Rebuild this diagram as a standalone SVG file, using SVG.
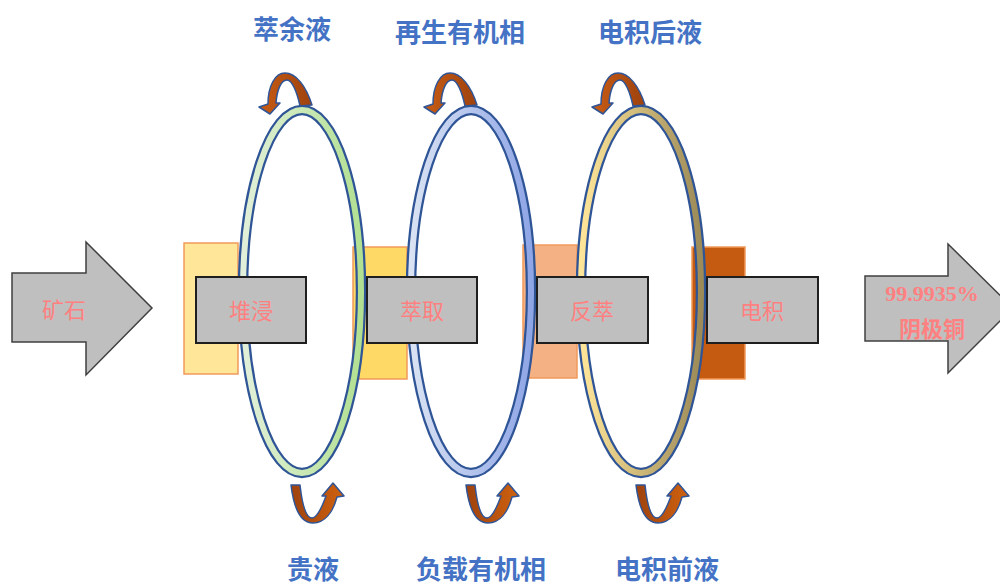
<svg xmlns="http://www.w3.org/2000/svg" width="1000" height="585" viewBox="0 0 1000 585">
<style>
.lbl{font-family:"Noto Sans CJK SC","Noto Sans",sans-serif;font-weight:bold;font-size:26px;fill:#4472c4;text-anchor:middle;dominant-baseline:central}
.box{fill:#bfbfbf;stroke:#1f1f1f;stroke-width:2}
.bt{font-family:"Noto Sans CJK SC","Noto Sans",sans-serif;font-size:22px;fill:#ff8080;text-anchor:middle;dominant-baseline:central}
.big{fill:#bfbfbf;stroke:#404040;stroke-width:1.5}
.band{stroke:#f19a5a;stroke-width:1.5}
.ringo{fill:none;stroke:#2f5597;stroke-width:10.5}
.arr{stroke:#2f5597;stroke-width:1.5;stroke-linejoin:round}
</style>
<defs>
<linearGradient id="g1" x1="0" y1="0" x2="1" y2="0"><stop offset="0" stop-color="#e2f0d9"/><stop offset="1" stop-color="#b2e092"/></linearGradient>
<linearGradient id="g2" x1="0" y1="0" x2="1" y2="0"><stop offset="0" stop-color="#dae3f3"/><stop offset="1" stop-color="#8fa6e6"/></linearGradient>
<linearGradient id="g3" x1="0" y1="0" x2="1" y2="0"><stop offset="0" stop-color="#ffe699"/><stop offset="1" stop-color="#9c8a58"/></linearGradient>
<linearGradient id="at" x1="0" y1="0" x2="1" y2="0"><stop offset="0" stop-color="#c85c14"/><stop offset="1" stop-color="#9e420e"/></linearGradient>
<linearGradient id="ab" x1="0" y1="0" x2="1" y2="0"><stop offset="0" stop-color="#9e420e"/><stop offset="1" stop-color="#d0620f"/></linearGradient>
<path id="topArrow" d="M300,106 C297,92 292,80 287,80 C281,80 277,90 276,103 L280,103 L270,114 L259,107 L268,104 C268,86 275,73 285,73 C296,73 306,86 312,105 Z"/>
<path id="botArrow" d="M291,485 L300,485 C302,503 306,518 312,518 C317,518 322,507 326,496 L322,496 L333,483 L344,496 L337,497 C333,512 325,523 313,523 C301,523 294,510 291,485 Z"/>
</defs>
<rect width="1000" height="585" fill="#ffffff"/>

<g id="ore">
<path class="big" d="M12,273 L86,273 L86,242 L152,308 L86,375 L86,342 L12,342 Z"/>
<text class="bt" x="64" y="308">矿石</text>
</g>

<g id="bands">
<rect class="band" x="184" y="243" width="54" height="131" fill="#ffe699"/>
<rect class="band" x="353" y="247" width="54" height="132" fill="#ffd966"/>
<rect class="band" x="523" y="245" width="54" height="133" fill="#f4b183"/>
<rect class="band" x="692" y="247" width="53" height="132" fill="#c55a11"/>
</g>

<g id="rings">
<g id="ring1"><ellipse class="ringo" cx="302" cy="291.5" rx="59" ry="181.5"/><ellipse cx="302" cy="291.5" rx="59" ry="181.5" fill="none" stroke="url(#g1)" stroke-width="6"/></g>
<g id="ring2"><ellipse class="ringo" cx="471" cy="291.5" rx="60" ry="181.5"/><ellipse cx="471" cy="291.5" rx="60" ry="181.5" fill="none" stroke="url(#g2)" stroke-width="6"/></g>
<g id="ring3"><ellipse class="ringo" cx="641" cy="291.5" rx="60" ry="181.5"/><ellipse cx="641" cy="291.5" rx="60" ry="181.5" fill="none" stroke="url(#g3)" stroke-width="6"/></g>
</g>

<g id="connectors">
<use href="#topArrow" class="arr" fill="url(#at)"/>
<use href="#topArrow" class="arr" fill="url(#at)" transform="translate(165,0)"/>
<use href="#topArrow" class="arr" fill="url(#at)" transform="translate(333,0)"/>
<use href="#botArrow" class="arr" fill="url(#ab)"/>
<use href="#botArrow" class="arr" fill="url(#ab)" transform="translate(175,0)"/>
<use href="#botArrow" class="arr" fill="url(#ab)" transform="translate(345,0)"/>
</g>

<g id="heap"><rect class="box" x="196" y="277" width="110" height="66"/><text class="bt" x="251" y="309">堆浸</text></g>
<g id="extract"><rect class="box" x="367" y="277" width="110" height="66"/><text class="bt" x="422" y="309">萃取</text></g>
<g id="strip"><rect class="box" x="537" y="277" width="111" height="66"/><text class="bt" x="592" y="309">反萃</text></g>
<g id="ew"><rect class="box" x="707" y="277" width="111" height="66"/><text class="bt" x="762" y="309">电积</text></g>

<g id="cathode">
<path class="big" d="M865,276 L948,276 L948,244 L1013,308 L948,373 L948,341 L865,341 Z"/>
<text x="932" y="293" font-family="'Liberation Serif',serif" font-weight="bold" font-size="22" fill="#ff8080" text-anchor="middle" dominant-baseline="central">99.9935%</text>
<text class="bt" x="932" y="327" font-weight="bold">阴极铜</text>
</g>

<g id="labels">
<text class="lbl" x="292" y="27">萃余液</text>
<text class="lbl" x="460" y="30">再生有机相</text>
<text class="lbl" x="650" y="30">电积后液</text>
<text class="lbl" x="313" y="567">贵液</text>
<text class="lbl" x="481" y="567">负载有机相</text>
<text class="lbl" x="667" y="567">电积前液</text>
</g>
</svg>
